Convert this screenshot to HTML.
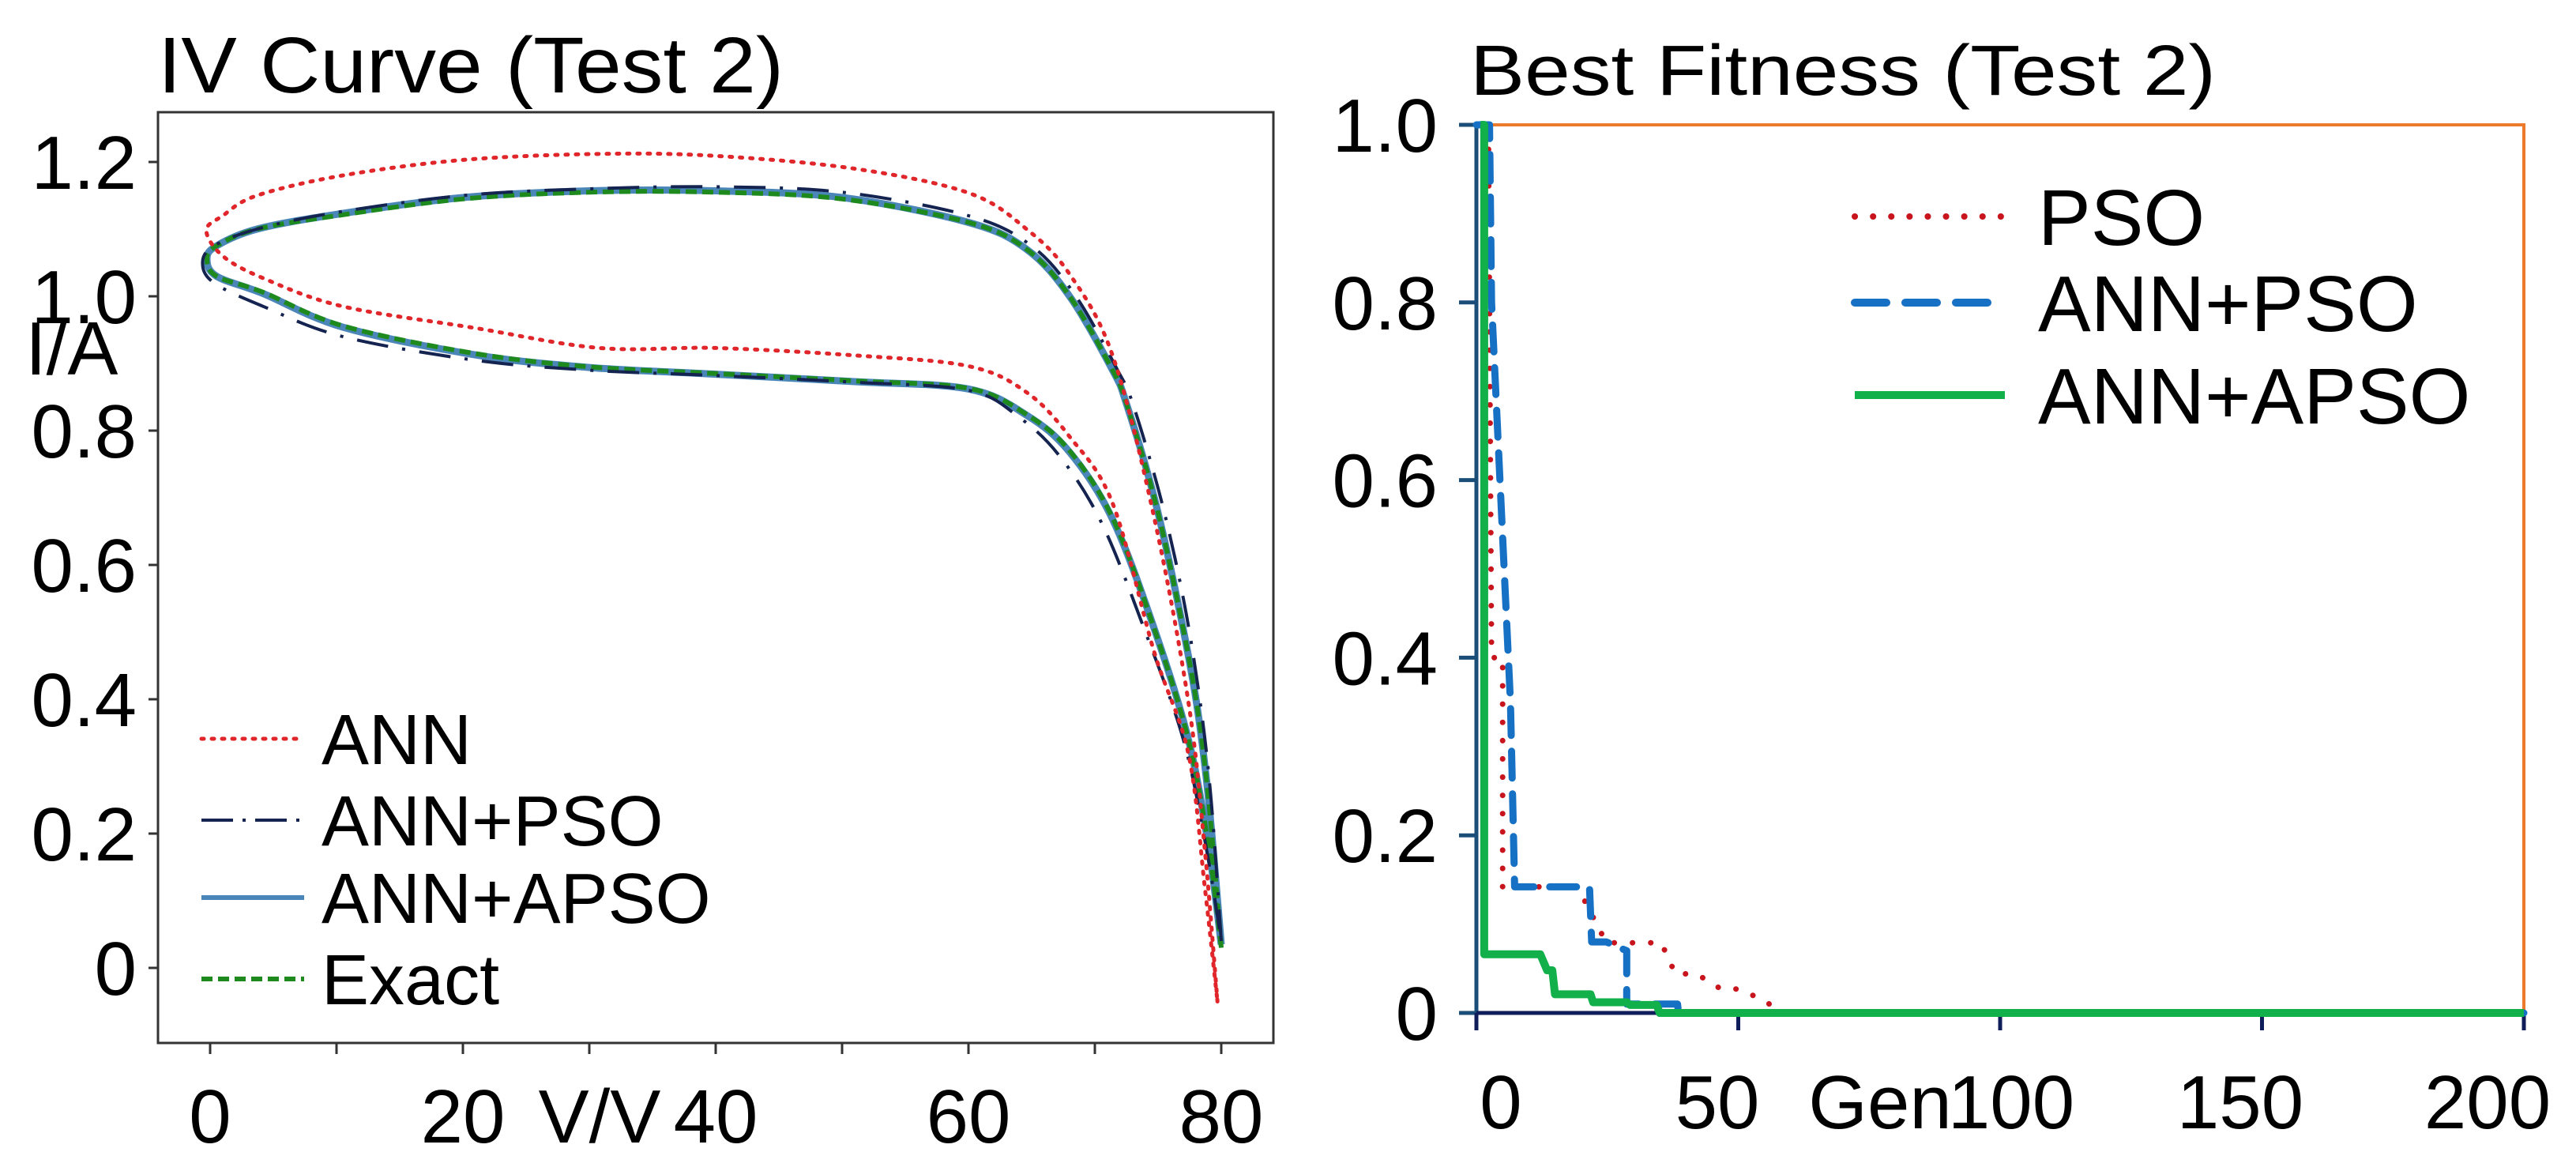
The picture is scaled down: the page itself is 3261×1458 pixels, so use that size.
<!DOCTYPE html>
<html><head><meta charset="utf-8"><title>IV Curve and Best Fitness (Test 2)</title>
<style>
html,body{margin:0;padding:0;background:#fff;}
svg{display:block;font-family:"Liberation Sans",Arial,sans-serif;}
</style></head>
<body>
<svg id="chart" width="3261" height="1458" viewBox="0 0 3261 1458" xmlns="http://www.w3.org/2000/svg">
<rect x="0" y="0" width="3261" height="1458" fill="#fff"/>
<g id="left"></g>
<g id="right"></g>
</svg>
<script>
// ---------- IV chart data ----------
const ivXTicks = [0, 20, 40, 60, 80];
const ivXMinor = [10, 30, 50, 70];
const ivYTicks = [0, 0.2, 0.4, 0.6, 0.8, 1.0, 1.2];
const ivYTickLabels = ["0", "0.2", "0.4", "0.6", "0.8", "1.0", "1.2"];
const exactV = [80, 79, 78, 76.5, 74.7, 72.5, 71.4, 68, 64.6, 60, 50, 40, 30, 20, 10, 3.7, 0.5, -0.25, 0.5, 4.2, 10.5, 20.9, 30, 40, 51, 60, 64.6, 68, 71.4, 74.7, 77.4, 79, 80];
const exactI = [0.03, 0.25, 0.40, 0.55, 0.70, 0.84, 0.89, 1.00, 1.07, 1.11, 1.145, 1.155, 1.155, 1.145, 1.12, 1.10, 1.075, 1.056, 1.03, 1.006, 0.956, 0.915, 0.895, 0.885, 0.874, 0.863, 0.824, 0.77, 0.67, 0.505, 0.34, 0.18, 0.03];
const apsoV = exactV.slice();
const apsoI = [0.035, 0.25, 0.40, 0.55, 0.70, 0.84, 0.89, 1.00, 1.07, 1.11, 1.147, 1.157, 1.157, 1.147, 1.122, 1.10, 1.075, 1.056, 1.03, 1.004, 0.954, 0.913, 0.894, 0.884, 0.873, 0.862, 0.823, 0.768, 0.668, 0.505, 0.34, 0.18, 0.035];
const psoV = [80, 79.2, 78.3, 77, 75.2, 73, 71.8, 68.5, 65, 60, 50, 40, 30, 20, 10, 3.7, 0.3, -0.6, 0.3, 4.2, 10.5, 20.9, 30, 40, 51, 60, 64, 67.3, 70.6, 74, 77, 78.8, 80];
const psoI = [0.04, 0.25, 0.40, 0.55, 0.70, 0.84, 0.89, 1.00, 1.075, 1.12, 1.155, 1.163, 1.16, 1.15, 1.125, 1.10, 1.075, 1.05, 1.02, 0.985, 0.94, 0.905, 0.89, 0.882, 0.872, 0.86, 0.82, 0.76, 0.66, 0.50, 0.34, 0.18, 0.04];
const annV = [79.7, 78.7, 77.4, 74.7, 71.4, 68, 64.6, 60, 51, 40, 30.8, 20, 10.5, 3.7, 1, -0.3, 1, 4.2, 10.5, 20.9, 30.8, 40, 51, 60, 64.6, 68, 71.4, 74.7, 77.4, 78.7, 79.7];
const annI = [-0.05, 0.176, 0.396, 0.67, 0.912, 1.033, 1.10, 1.154, 1.19, 1.209, 1.212, 1.203, 1.18, 1.15, 1.12, 1.098, 1.06, 1.027, 0.985, 0.953, 0.923, 0.923, 0.912, 0.896, 0.857, 0.791, 0.692, 0.47, 0.319, 0.12, -0.05];

// ---------- Fitness chart data ----------
const fitXTicks = [0, 50, 100, 150, 200];
const fitYTicks = [0, 0.2, 0.4, 0.6, 0.8, 1.0];
const fitYTickLabels = ["0", "0.2", "0.4", "0.6", "0.8", "1.0"];
const psoGen = [0, 2.3, 2.9, 4, 5, 5, 19.3, 24.8, 35.3, 38, 42, 46.7, 50, 53.5, 59, 200];
const psoFit = [1.0, 1.0, 0.4, 0.4, 0.4, 0.142, 0.142, 0.079, 0.079, 0.044, 0.044, 0.027, 0.027, 0.018, 0, 0];
const annPsoGen = [0, 2.5, 2.9, 4.5, 6.5, 7.3, 21.6, 22, 24.8, 28.7, 28.7, 38.4, 38.6, 200];
const annPsoFit = [1.0, 1.0, 0.8, 0.6, 0.35, 0.142, 0.142, 0.08, 0.08, 0.07, 0.01, 0.01, 0, 0];
const apsoGen = [0.8, 1.5, 1.5, 12.2, 13.5, 14.5, 15, 21.8, 22.3, 28.8, 29.3, 34.4, 35, 200];
const apsoFit = [1.0, 1.0, 0.066, 0.066, 0.048, 0.048, 0.021, 0.021, 0.012, 0.012, 0.009, 0.009, 0, 0];

const NS = "http://www.w3.org/2000/svg";
function mk(parent, tag, attrs, text) {
  const e = document.createElementNS(NS, tag);
  for (const k in attrs) e.setAttribute(k, attrs[k]);
  if (text !== undefined) e.textContent = text;
  parent.appendChild(e);
  return e;
}
function smoothPath(pts) {
  let d = "M" + pts[0][0].toFixed(1) + "," + pts[0][1].toFixed(1);
  for (let i = 0; i < pts.length - 1; i++) {
    const p0 = pts[Math.max(0, i - 1)], p1 = pts[i], p2 = pts[i + 1], p3 = pts[Math.min(pts.length - 1, i + 2)];
    const c1 = [p1[0] + (p2[0] - p0[0]) / 6, p1[1] + (p2[1] - p0[1]) / 6];
    const c2 = [p2[0] - (p3[0] - p1[0]) / 6, p2[1] - (p3[1] - p1[1]) / 6];
    d += " C" + c1[0].toFixed(1) + "," + c1[1].toFixed(1) + " " + c2[0].toFixed(1) + "," + c2[1].toFixed(1) + " " + p2[0].toFixed(1) + "," + p2[1].toFixed(1);
  }
  return d;
}

// ================= LEFT: IV curve =================
const L = document.getElementById("left");
const ivX = v => 266 + v * 16.0;
const ivY = v => 1225 - v * 850;
let t;
t = mk(L, "text", {x: 200, y: 117, "font-size": 100, fill: "#000", textLength: 792, lengthAdjust: "spacingAndGlyphs"}, "IV Curve (Test 2)");


let fr = mk(L, "rect", {x: 200, y: 142, width: 1412, height: 1178, fill: "none", stroke: "#333", "stroke-width": 3});


ivYTicks.forEach((v, i) => {
  const tk = mk(L, "line", {x1: 188, x2: 200, y1: ivY(v), y2: ivY(v), stroke: "#333", "stroke-width": 3});
  
  
  const lb = mk(L, "text", {x: 173, y: ivY(v) + 34, "font-size": 96, "text-anchor": "end", fill: "#000"}, ivYTickLabels[i]);
  
  
});
ivXTicks.concat(ivXMinor).forEach(v => {
  const tk = mk(L, "line", {x1: ivX(v), x2: ivX(v), y1: 1320, y2: 1334, stroke: "#333", "stroke-width": 3});
  
  
});
ivXTicks.forEach(v => {
  const lb = mk(L, "text", {x: ivX(v), y: 1446, "font-size": 96, "text-anchor": "middle", fill: "#000"}, String(v));
  
  
});
t = mk(L, "text", {x: 759, y: 1446, "font-size": 96, "text-anchor": "middle", fill: "#000"}, "V/V");


t = mk(L, "text", {x: 32, y: 474, "font-size": 96, fill: "#000"}, "I/A");



function ivSeries(V, I, style, name) {
  const pts = V.map((v, i) => [ivX(v), ivY(I[i])]);
  const p = mk(L, "path", Object.assign({d: smoothPath(pts), fill: "none"}, style));
  
  
}
ivSeries(apsoV, apsoI, {stroke: "#4a86b8", "stroke-width": 9}, "ann-apso-curve");
ivSeries(exactV, exactI, {stroke: "#1e8a1e", "stroke-width": 6, "stroke-dasharray": "14 7"}, "exact-curve");
ivSeries(psoV, psoI, {stroke: "#14234f", "stroke-width": 4, "stroke-dasharray": "40 18 4 18"}, "ann-pso-curve");
ivSeries(annV, annI, {stroke: "#e0262a", "stroke-width": 5, "stroke-dasharray": "3 10", "stroke-linecap": "round"}, "ann-curve");

const ivLegend = [
  ["ANN", {stroke: "#e0262a", "stroke-width": 5, "stroke-dasharray": "3 10", "stroke-linecap": "round"}, 935],
  ["ANN+PSO", {stroke: "#14234f", "stroke-width": 4, "stroke-dasharray": "40 12 4 12"}, 1038],
  ["ANN+APSO", {stroke: "#4a86b8", "stroke-width": 6}, 1136],
  ["Exact", {stroke: "#1e8a1e", "stroke-width": 6, "stroke-dasharray": "14 7"}, 1239]
];
ivLegend.forEach(e => {
  const g = mk(L, "g", {});
  
  
  mk(g, "line", Object.assign({x1: 255, x2: 385, y1: e[2], y2: e[2]}, e[1]));
  mk(g, "text", {x: 407, y: e[2] + 32, "font-size": 90, fill: "#000"}, e[0]);
});

// ================= RIGHT: Best fitness =================
const R = document.getElementById("right");
const fX = v => 1869 + v * 6.63;
const fY = v => 1282 - v * 1124;
t = mk(R, "text", {x: 1861, y: 120, "font-size": 90, fill: "#000", textLength: 944, lengthAdjust: "spacingAndGlyphs"}, "Best Fitness (Test 2)");


let ob = mk(R, "polyline", {points: `${fX(0)},${fY(1)} ${fX(200)},${fY(1)} ${fX(200)},${fY(0)}`, fill: "none", stroke: "#ec7a2c", "stroke-width": 4});


let ax = mk(R, "line", {x1: fX(0), x2: fX(0), y1: fY(1), y2: fY(0), stroke: "#1a4e78", "stroke-width": 5});


ax = mk(R, "line", {x1: fX(0), x2: fX(200), y1: fY(0), y2: fY(0), stroke: "#0f1e5a", "stroke-width": 5});


fitYTicks.forEach((v, i) => {
  const tk = mk(R, "line", {x1: fX(0) - 22, x2: fX(0), y1: fY(v), y2: fY(v), stroke: "#1a4e78", "stroke-width": 5});
  
  
  const lb = mk(R, "text", {x: 1820, y: fY(v) + 34, "font-size": 96, "text-anchor": "end", fill: "#000"}, fitYTickLabels[i]);
  
  
});
fitXTicks.forEach(v => {
  const tk = mk(R, "line", {x1: fX(v), x2: fX(v), y1: fY(0), y2: fY(0) + 22, stroke: "#0f1e5a", "stroke-width": 5});
  
  
});
const fitXLabelPos = [1900, 2174, 2546, 2836, 3149];
fitXTicks.forEach((v, i) => {
  const lb = mk(R, "text", {x: fitXLabelPos[i], y: 1428, "font-size": 96, "text-anchor": "middle", fill: "#000"}, String(v));
  
  
});
t = mk(R, "text", {x: 2380, y: 1428, "font-size": 96, "text-anchor": "middle", fill: "#000"}, "Gen");



function fitSeries(G, F, style, name) {
  const pts = G.map((g, i) => fX(g).toFixed(1) + "," + fY(F[i]).toFixed(1)).join(" ");
  const p = mk(R, "polyline", Object.assign({points: pts, fill: "none", "stroke-linejoin": "round"}, style));
  
  
}
fitSeries(psoGen, psoFit, {stroke: "#c8141c", "stroke-width": 7, "stroke-dasharray": "0.1 23", "stroke-linecap": "round"}, "pso-line");
fitSeries(annPsoGen, annPsoFit, {stroke: "#1670c4", "stroke-width": 9, "stroke-dasharray": "34 20", "stroke-linecap": "round"}, "ann-pso-line");
fitSeries(apsoGen, apsoFit, {stroke: "#12b04a", "stroke-width": 10}, "ann-apso-line");

const fitLegend = [
  ["PSO", {stroke: "#c8141c", "stroke-width": 8, "stroke-dasharray": "0.1 23", "stroke-linecap": "round"}, 274],
  ["ANN+PSO", {stroke: "#1670c4", "stroke-width": 10, "stroke-dasharray": "40 24", "stroke-linecap": "round"}, 383],
  ["ANN+APSO", {stroke: "#12b04a", "stroke-width": 10}, 500]
];
fitLegend.forEach(e => {
  const g = mk(R, "g", {});
  
  
  mk(g, "line", Object.assign({x1: 2348, x2: 2538, y1: e[2], y2: e[2]}, e[1]));
  mk(g, "text", {x: 2580, y: e[2] + 36, "font-size": 100, fill: "#000"}, e[0]);
});
</script>
</body></html>
